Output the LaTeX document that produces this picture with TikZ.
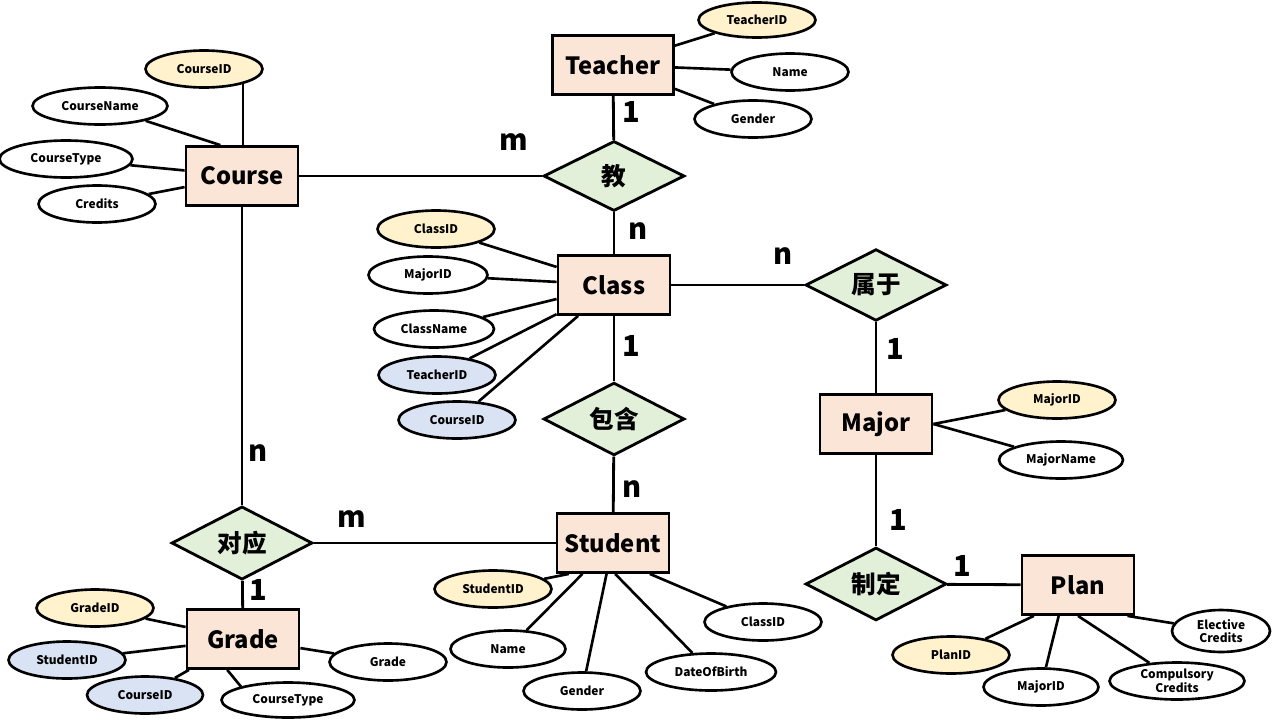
\documentclass[tikz,border=0pt]{standalone}
\usepackage{fontspec}
\setmainfont{Noto Sans CJK SC}
\usepackage{xcolor}
\usetikzlibrary{shapes.geometric}

\definecolor{entfill}{HTML}{FBE5D6}
\definecolor{relfill}{HTML}{E2F0D9}
\definecolor{pkfill}{HTML}{FFF2CC}
\definecolor{fkfill}{HTML}{DAE3F3}

\begin{document}
\begin{tikzpicture}[
  x=0.02cm, y=-0.02cm,
  entity/.style={rectangle, draw, line width=1.6pt, fill=entfill, minimum width=2.24cm, minimum height=1.18cm, font=\fontsize{13.5}{16}\selectfont\bfseries},
  relation/.style={diamond, draw, line width=1.6pt, fill=relfill, minimum width=2.82cm, minimum height=1.4cm, inner sep=0pt, font=\fontsize{14}{16}\selectfont\bfseries},
  attr/.style={ellipse, draw, line width=1.5pt, fill=white, minimum width=2.34cm, minimum height=0.74cm, inner sep=0pt, align=center, font=\fontsize{6.8}{7.8}\selectfont\bfseries},
  pkattr/.style={attr, fill=pkfill},
  fkattr/.style={attr, fill=fkfill},
  link/.style={line width=1.6pt},
  alink/.style={line width=1.5pt},
  card/.style={font=\fontsize{16.5}{18}\selectfont\bfseries}
]
\useasboundingbox (0,0) rectangle (1280,720);

% Entities
\node[entity]                       (course)  at (242,176)  {Course};
\node[entity, minimum width=2.42cm] (teacher) at (613,65)   {Teacher};
\node[entity]                       (class)   at (614,285)  {Class};
\node[entity]                       (major)   at (876,424)  {Major};
\node[entity]                       (student) at (613,543)  {Student};
\node[entity]                       (grade)   at (243,639)  {Grade};
\node[entity]                       (plan)    at (1078,585) {Plan};

% Relationships
\node[relation] (teach)   at (614,176) {教};
\node[relation] (belong)  at (876,285) {属于};
\node[relation] (contain) at (614,419) {包含};
\node[relation] (match)   at (242,543) {对应};
\node[relation] (make)    at (876,584) {制定};

% Course attributes
\node[pkattr]                       (courseid)   at (204,69)  {CourseID};
\node[attr, minimum width=2.7cm]    (coursename) at (100,106) {CourseName};
\node[attr, minimum width=2.66cm]   (coursetype) at (66,159)  {CourseType};
\node[attr]                         (credits)    at (97,204)  {Credits};

% Teacher attributes
\node[pkattr, minimum height=0.7cm] (teacherid) at (757,20)  {TeacherID};
\node[attr]                         (tname)     at (790,72)  {Name};
\node[attr]                         (tgender)   at (753,119) {Gender};

% Class attributes
\node[pkattr]                       (classid)   at (436,229) {ClassID};
\node[attr, minimum width=2.38cm]   (cmajorid)  at (428,275) {MajorID};
\node[attr, minimum width=2.4cm]    (classname) at (434,329) {ClassName};
\node[fkattr]                       (cteachid)  at (437,375) {TeacherID};
\node[fkattr]                       (ccourseid) at (457,420) {CourseID};

% Major attributes
\node[pkattr]                       (majorid)   at (1057,400) {MajorID};
\node[attr, minimum width=2.48cm]   (majorname) at (1061,460) {MajorName};

% Student attributes
\node[pkattr]                       (studentid) at (493,589) {StudentID};
\node[attr, minimum width=2.3cm]    (sname)     at (508,649) {Name};
\node[attr]                         (sgender)   at (582,691) {Gender};
\node[attr, minimum width=2.6cm]    (birth)     at (711,672) {DateOfBirth};
\node[attr]                         (sclassid)  at (763,622) {ClassID};

% Grade attributes
\node[pkattr]                       (gradeid)   at (95,608)  {GradeID};
\node[fkattr]                       (gstudid)   at (67,660)  {StudentID};
\node[fkattr, minimum width=2.32cm] (gcourseid) at (145,695) {CourseID};
\node[attr, minimum width=2.66cm, minimum height=0.7cm] (gcoursetype) at (288,700) {CourseType};
\node[attr]                         (gscore)    at (388,662) {Grade};

% Plan attributes
\node[pkattr]                       (planid)    at (951,655)  {PlanID};
\node[attr, minimum width=2.3cm]    (pmajorid)  at (1041,687) {MajorID};
\node[attr, minimum width=2.7cm]    (compcred)  at (1177,681) {Compulsory\\Credits};
\node[attr, minimum width=1.96cm, minimum height=0.84cm] (eleccred) at (1221,631) {Elective\\Credits};

% Relationship lines
\draw[link] (course)  -- (teach);
\draw[link] (teacher) -- (teach);
\draw[link] (teach)   -- (class);
\draw[link] (class)   -- (belong);
\draw[link] (belong)  -- (major);
\draw[link] (major)   -- (make);
\draw[link] (make)    -- (plan);
\draw[link] (class)   -- (contain);
\draw[link] (contain) -- (student);
\draw[link] (course)  -- (match);
\draw[link] (student) -- (match);
\draw[link] (match)   -- (grade);

% Attribute lines
\draw[alink] (courseid.-21) -- (courseid.-21 |- course.north);
\draw[alink] (coursename) -- (course.125);
\draw[alink] (coursetype) -- (course);
\draw[alink] (credits)    -- (course);

\draw[alink] (teacherid) -- (teacher);
\draw[alink] (tname)     -- (teacher);
\draw[alink] (tgender)   -- (teacher);

\draw[alink] (classid)   -- (class);
\draw[alink] (cmajorid)  -- (class);
\draw[alink] (classname) -- (class);
\draw[alink] (cteachid)  -- (class);
\draw[alink] (ccourseid) -- (class);

\draw[alink] (majorid)   -- (major.east);
\draw[alink] (majorname) -- (major.east);

\draw[alink] (studentid) -- (student.215);
\draw[alink] (sname)     -- (student);
\draw[alink] (sgender)   -- (student);
\draw[alink] (birth)     -- (student.-86);
\draw[alink] (sclassid)  -- (student.-40);

\draw[alink] (gradeid)          -- (grade);
\draw[alink] (gstudid)          -- (grade);
\draw[alink] (gcourseid)        -- (grade);
\draw[alink] (gcoursetype.164)  -- (grade.243);
\draw[alink] (gscore)           -- (grade);

\draw[alink] (planid)   -- (plan.215);
\draw[alink] (pmajorid) -- (plan.238);
\draw[alink] (compcred) -- (plan.south);
\draw[alink] (eleccred) -- (plan.-32);

% Cardinalities
\node[card] (c1)  at (514,142) {m};
\node[card] (c2)  at (631,112) {1};
\node[card] (c3)  at (638,231) {n};
\node[card] (c4)  at (783,256) {n};
\node[card] (c5)  at (895,349) {1};
\node[card] (c6)  at (898,520) {1};
\node[card] (c7)  at (962,566) {1};
\node[card] (c8)  at (631,346) {1};
\node[card] (c9)  at (632,489) {n};
\node[card] (c10) at (258,453) {n};
\node[card] (c11) at (352,519) {m};
\node[card] (c12) at (258,590) {1};

\end{tikzpicture}
\end{document}
